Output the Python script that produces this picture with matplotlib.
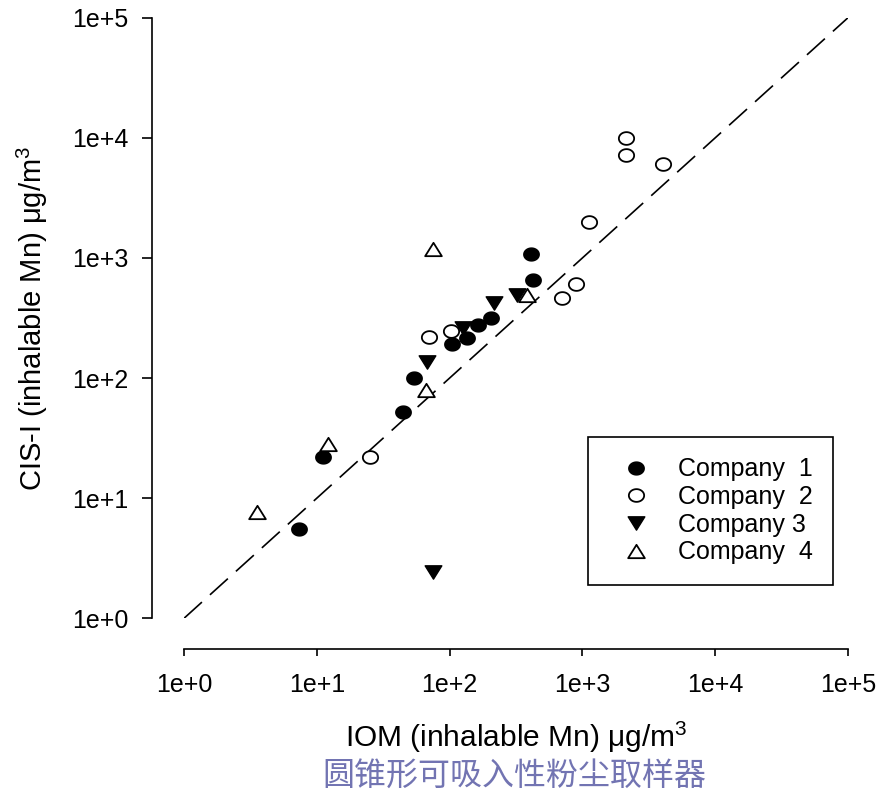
# nuage IOM / CIS-I (Mn inhalable), echelle log-log, 4 entreprises
import matplotlib.pyplot as plt
import numpy as np
from matplotlib.path import Path

# valeurs (ug/m3)
c1_iom = [7.3, 11.1, 44.8, 54.2, 105, 135, 163, 205, 410, 423]
c1_cis = [5.5, 22.2, 52.5, 99.6, 192, 214, 277, 315, 1074, 656]

c2_iom = [25.2, 70.3, 102, 698, 890, 1127, 2130, 2118, 4063]
c2_cis = [22.2, 219, 247, 467, 607, 2005, 7210, 10040, 6030]

c3_iom = [67.1, 127, 217, 320, 74.6]
c3_cis = [137, 260, 420, 492, 2.44]

c4_iom = [3.53, 12.1, 66.2, 75.4, 380]
c4_cis = [7.63, 28.1, 79.6, 1181, 490]

noms = ['Company  1', 'Company  2', 'Company 3', 'Company  4']
decades = [1, 10, 100, 1000, 10000, 100000]
etiquettes = ['1e+0', '1e+1', '1e+2', '1e+3', '1e+4', '1e+5']

# marqueurs un peu elargis (image d'origine etiree en largeur)
t = np.linspace(0, 2 * np.pi, 60)
ellipse = Path(np.column_stack([1.2 * np.cos(t), np.sin(t)]), closed=True)
tri_bas = Path([(-1, 0.8), (1, 0.8), (0, -0.8), (-1, 0.8)], closed=True)
tri_haut = Path([(-1, -0.8), (1, -0.8), (0, 0.8), (-1, -0.8)], closed=True)

plt.rcParams['font.family'] = ['Liberation Sans', 'DejaVu Sans']
plt.rcParams['mathtext.fontset'] = 'custom'
plt.rcParams['mathtext.rm'] = 'Liberation Sans'

fig = plt.figure(figsize=(8.77, 7.92), dpi=100)
ax = fig.add_axes([0.2098, 0.2193, 0.7571, 0.7583])

ax.plot(c1_iom, c1_cis, ls='none', marker=ellipse, ms=11, mfc='black', mec='black', mew=1.1, label=noms[0], clip_on=False)
ax.plot(c2_iom, c2_cis, ls='none', marker=ellipse, ms=11, mfc='white', mec='black', mew=1.3, label=noms[1], clip_on=False)
ax.plot(c3_iom, c3_cis, ls='none', marker=tri_bas, ms=12, mfc='black', mec='black', mew=1.0, label=noms[2], clip_on=False)
ax.plot(c4_iom, c4_cis, ls='none', marker=tri_haut, ms=12, mfc='white', mec='black', mew=1.3, label=noms[3], clip_on=False)

# droite 1:1
ax.plot([1, 1e5], [1, 1e5], color='black', lw=1.2, dashes=(14.5, 6.5), zorder=1)

ax.set_xscale('log')
ax.set_yscale('log')
ax.set_xlim(1, 1e5)
ax.set_ylim(1, 1e5)
ax.set_xticks(decades)
ax.set_xticklabels(etiquettes)
ax.set_yticks(decades)
ax.set_yticklabels(etiquettes)
ax.minorticks_off()

for s in ['top', 'right']:
    ax.spines[s].set_visible(False)
ax.spines['left'].set_position(('outward', 23))
ax.spines['bottom'].set_position(('outward', 22))
ax.spines['left'].set_linewidth(1.2)
ax.spines['bottom'].set_linewidth(1.2)
ax.tick_params(axis='y', direction='out', length=7.2, width=1.2, pad=10, labelsize=18)
ax.tick_params(axis='x', direction='out', length=5.3, width=1.2, pad=12, labelsize=18)

ax.set_xlabel('IOM (inhalable Mn) μg/m$^{3}$', fontsize=21.5, va='top')
ax.xaxis.set_label_coords(0.5, -0.168)
ax.set_ylabel('CIS-I (inhalable Mn) μg/m$^{3}$', fontsize=21)
ax.yaxis.set_label_coords(-0.2018, 0.5)

leg = ax.legend(loc='upper left', bbox_to_anchor=(588 / 877, 1 - 437 / 792), bbox_transform=fig.transFigure,
                fontsize=18, frameon=True, fancybox=False, shadow=False, borderpad=0.81, labelspacing=0.15,
                handlelength=2.22, handletextpad=0.57, borderaxespad=0, numpoints=1)
leg.get_frame().set_edgecolor('black')
leg.get_frame().set_linewidth(1.2)
leg.get_frame().set_alpha(None)

fig.text(514 / 877, 0.0202, '圆锥形可吸入性粉尘取样器', ha='center', va='center', fontsize=23,
         color='#7274B2', family=['Noto Sans CJK SC', 'DejaVu Sans'])

fig.savefig('out.png', dpi=100)
